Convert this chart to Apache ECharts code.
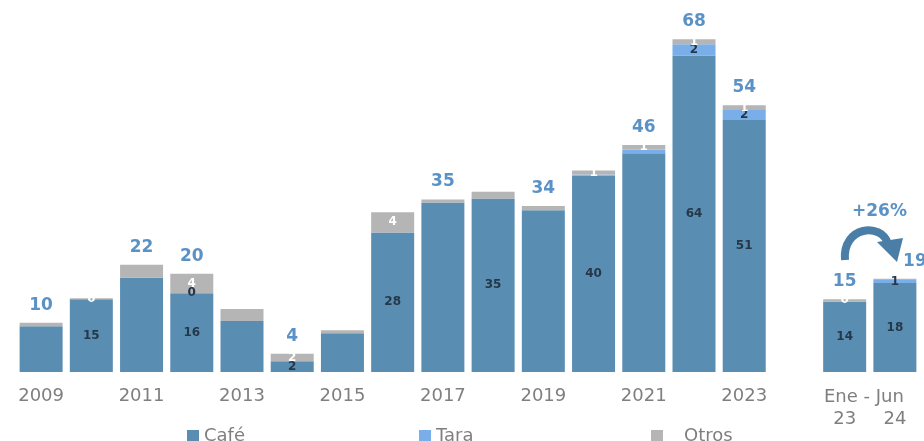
<!DOCTYPE html>
<html>
<head>
<meta charset="utf-8">
<script src="https://cdn.jsdelivr.net/npm/echarts@6/dist/echarts.min.js"></script>
<style>html,body{margin:0;padding:0;background:#fff}#c{width:924px;height:441px}</style>
</head>
<body>
<div id="c"></div>
<script>
const categories = ['2009','2010','2011','2012','2013','2014','2015','2016','2017','2018','2019','2020','2021','2022','2023','','23','24'];
const cafe  = [9.3,14.8,19.2,16,10.4,2.2,7.9,28.4,34.5,35.3,32.9,40,44.5,64.4,51.3,null,14.3,18.1];
const tara  = [0,0,0,0,0,0,0,0,0,0,0,0.2,0.8,2.3,2,null,0.1,0.6];
const otros = [0.7,0.2,2.6,4,2.4,1.5,0.6,4.1,0.6,1.4,0.9,0.8,0.9,1,1,null,0.4,0.3];
const growthText = '+26%';
const periodText = 'Ene - Jun';

const totals = cafe.map((v,i)=> v==null ? null : Math.round(v + tara[i] + otros[i]));
const totalIdx = [0,2,3,5,8,10,12,13,14,16,17];
const cafeIdx = [1,3,5,7,9,11,13,14,16,17];
const taraIdx = [3,13,14,17];
const otrosIdx = [1,3,5,7,11,12,13,14,16];
const hiddenYears = ['2010','2012','2014','2016','2018','2020','2022'];

const C_CAFE = '#5a8db2', C_TARA = '#79aee9', C_OTROS = '#b5b5b5', C_TOT = '#5b92c6';
const FONT = 'DejaVu Sans';

function lab(idx){ return p => (idx.includes(p.dataIndex) && p.value!=null) ? String(Math.round(p.value)) : ''; }

const chart = echarts.init(document.getElementById('c'), null, {renderer:'canvas'});
chart.setOption({
  animation:false,
  grid:{left:16,right:4,top:28,bottom:69},
  xAxis:{type:'category',data:categories,
    axisLine:{show:false},axisTick:{show:false},
    axisLabel:{interval:0,margin:13,lineHeight:23,color:'#7f7f7f',fontFamily:FONT,fontSize:18,
      formatter:v=> hiddenYears.includes(v) ? '' : (v.length===2 ? '\n'+v : v)}},
  yAxis:{type:'value',min:0,max:70,show:false},
  legend:[
    {data:['Café'],left:182,top:422,itemWidth:12,itemHeight:12,icon:'rect',textStyle:{color:'#7f7f7f',fontFamily:FONT,fontSize:18}},
    {data:['Tara'],left:414,top:422,itemWidth:12,itemHeight:12,icon:'rect',textStyle:{color:'#7f7f7f',fontFamily:FONT,fontSize:18}},
    {data:['Otros'],left:646,top:422,itemWidth:12,itemHeight:12,icon:'rect',textStyle:{color:'#7f7f7f',fontFamily:FONT,fontSize:18,padding:[0,0,0,16]}}
  ],
  series:[
    {name:'Café',type:'bar',stack:'a',barWidth:43,data:cafe,itemStyle:{color:C_CAFE},
      label:{show:true,position:'inside',color:'#25384a',fontFamily:FONT,fontSize:12,fontWeight:'bold',formatter:lab(cafeIdx)}},
    {name:'Tara',type:'bar',stack:'a',barWidth:43,data:tara,itemStyle:{color:C_TARA},
      label:{show:true,position:'inside',color:'#25384a',fontFamily:FONT,fontSize:12,fontWeight:'bold',formatter:lab(taraIdx)}},
    {name:'Otros',type:'bar',stack:'a',barWidth:43,data:otros,itemStyle:{color:C_OTROS},
      label:{show:true,position:'inside',color:'#ffffff',fontFamily:FONT,fontSize:12,fontWeight:'bold',formatter:lab(otrosIdx)}},
    {name:'Total',type:'bar',stack:'a',barWidth:43,
      data:totals.map((t,i)=> t==null ? null : (i===17 ? {value:0,label:{offset:[20,0]}} : 0)),
      itemStyle:{color:'transparent'},
      label:{show:true,position:'top',distance:9,color:C_TOT,fontFamily:FONT,fontSize:17,fontWeight:'bold',
        formatter:p=> totalIdx.includes(p.dataIndex) ? String(totals[p.dataIndex]) : ''}}
  ],
  graphic:[
    {type:'text',left:870-46,top:388,style:{text:periodText,fill:'#7f7f7f',font:'18px "DejaVu Sans"',width:92,align:'center'}},
    {type:'text',x:852,y:203,style:{text:growthText,fill:C_TOT,font:'bold 17px "DejaVu Sans"'}},
    {type:'bezierCurve',shape:{x1:845,y1:260,cpx1:842,cpy1:226,cpx2:882,cpy2:222,x2:888,y2:244},
      style:{stroke:'#4a7ea6',lineWidth:8,fill:null}},
    {type:'polygon',shape:{points:[[877,242],[903,238],[897,262]]},style:{fill:'#4a7ea6'}}
  ]
});
</script>
</body>
</html>
